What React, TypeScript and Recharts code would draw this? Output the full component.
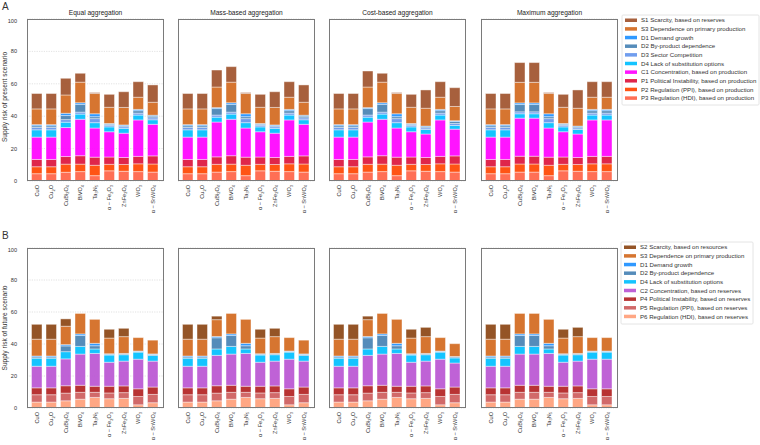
import React from "react";
import { BarChart, Bar, XAxis, YAxis, CartesianGrid } from "recharts";

// materials, subscripts marked with _n
const materials = ["CuO", "Cu_2O", "CuBi_2O_4", "BiVO_4", "Ta_3N_5", "α − Fe_2O_3", "ZnFe_2O_4", "WO_3", "α − SnWO_4"];

const panelTitles = ["Equal aggregation", "Mass-based aggregation", "Cost-based aggregation", "Maximum aggregation"];
const yTicks = [0, 20, 40, 60, 80, 100];

// stacking order, bottom -> top
const presentKeys = ["P3", "P2", "P1", "C1", "D4", "D3", "D2", "D1", "S3", "S1"];
const futureKeys = ["P6", "P5", "P4", "C2", "D4", "D2", "D1", "S3", "S2"];

const colors: Record<string, string> = {
  S1: "#a0522d", S2: "#8b4513", S3: "#d2691e",
  D1: "#1e90ff", D2: "#4682b4", D3: "#6495ed", D4: "#00bfff",
  C1: "#ff00ff", C2: "#ba55d3",
  P1: "#dc143c", P2: "#ff4500", P3: "#ff6347",
  P4: "#b22222", P5: "#cd5c5c", P6: "#ffa07a",
};

const presentLegend = [
  ["S1", "S1 Scarcity, based on reserves"],
  ["S3", "S3 Dependence on primary production"],
  ["D1", "D1 Demand growth"],
  ["D2", "D2 By-product dependence"],
  ["D3", "D3 Sector Competition"],
  ["D4", "D4 Lack of substitution options"],
  ["C1", "C1 Concentration, based on production"],
  ["P1", "P1 Political Instability, based on production"],
  ["P2", "P2 Regulation (PPI), based on production"],
  ["P3", "P3 Regulation (HDI), based on production"],
];
const futureLegend = [
  ["S2", "S2 Scarcity, based on resources"],
  ["S3", "S3 Dependence on primary production"],
  ["D1", "D1 Demand growth"],
  ["D2", "D2 By-product dependence"],
  ["D4", "D4 Lack of substitution options"],
  ["C2", "C2 Concentration, based on reserves"],
  ["P4", "P4 Political Instability, based on reserves"],
  ["P5", "P5 Regulation (PPI), based on reserves"],
  ["P6", "P6 Regulation (HDI), based on reserves"],
];

// A: present scenario
const presentEqual = {
  S1: [9.5, 9.5, 10.3, 5.5, 0.6, 8.0, 9.7, 9.6, 10.7],
  S3: [9.7, 9.7, 11.3, 12.7, 12.5, 10.0, 10.8, 7.5, 8.0],
  D1: [0.7, 0.7, 1.4, 1.0, 1.8, 0.5, 0.5, 0.8, 0.6],
  D2: [1.0, 1.0, 2.5, 4.8, 1.2, 0.6, 0.6, 1.5, 1.0],
  D3: [1.5, 1.5, 1.6, 1.2, 2.5, 1.0, 1.0, 1.2, 1.2],
  D4: [4.5, 4.5, 3.3, 3.2, 3.3, 3.0, 3.0, 3.0, 2.8],
  C1: [13.8, 13.8, 17.9, 22.5, 18.0, 15.6, 15.0, 22.5, 19.5],
  P1: [4.5, 4.5, 4.7, 5.2, 5.0, 4.5, 4.3, 4.6, 5.0],
  P2: [4.3, 4.3, 5.0, 4.6, 6.4, 4.0, 4.2, 4.8, 5.0],
  P3: [4.5, 4.5, 5.4, 5.8, 3.3, 6.3, 6.0, 5.8, 5.5],
};
const presentMass = {
  S1: [9.5, 9.5, 10.5, 9.6, 0.6, 8.0, 9.7, 9.6, 10.7],
  S3: [9.7, 9.7, 12.7, 12.7, 12.5, 10.0, 10.8, 7.5, 8.0],
  D1: [0.7, 0.7, 0.6, 1.0, 1.8, 0.5, 0.5, 0.8, 0.6],
  D2: [1.0, 1.0, 4.0, 4.8, 1.2, 0.6, 0.6, 1.5, 1.0],
  D3: [1.5, 1.5, 1.3, 1.2, 2.5, 1.0, 1.0, 1.2, 1.2],
  D4: [4.5, 4.5, 3.0, 3.2, 3.3, 3.0, 3.0, 3.0, 2.8],
  C1: [13.8, 13.8, 21.5, 22.5, 18.0, 15.6, 15.0, 22.5, 19.5],
  P1: [4.5, 4.5, 4.6, 5.2, 5.0, 4.5, 4.3, 4.6, 5.0],
  P2: [4.3, 4.3, 4.8, 4.6, 6.4, 4.0, 4.2, 4.8, 5.0],
  P3: [4.5, 4.5, 5.5, 5.8, 3.3, 6.3, 6.0, 5.8, 5.5],
};
const presentCost = {
  S1: [9.5, 9.5, 9.9, 5.5, 0.6, 8.0, 11.3, 9.6, 11.6],
  S3: [9.7, 9.7, 12.7, 12.7, 12.5, 10.0, 11.0, 7.5, 8.8],
  D1: [0.7, 0.7, 0.6, 1.0, 1.8, 0.5, 0.5, 0.8, 0.5],
  D2: [1.0, 1.0, 4.0, 4.8, 1.2, 0.6, 0.6, 1.5, 1.2],
  D3: [1.5, 1.5, 1.3, 1.2, 2.5, 1.0, 1.0, 1.2, 1.2],
  D4: [4.5, 4.5, 3.0, 3.2, 3.3, 3.0, 2.8, 3.0, 2.3],
  C1: [13.8, 13.8, 21.5, 22.5, 18.0, 15.6, 14.5, 22.5, 16.5],
  P1: [4.5, 4.5, 4.6, 5.2, 5.0, 4.5, 4.3, 4.6, 5.0],
  P2: [4.3, 4.3, 4.8, 4.6, 6.4, 4.0, 4.2, 4.8, 5.0],
  P3: [4.5, 4.5, 5.5, 5.8, 3.3, 6.3, 6.0, 5.8, 5.5],
};
const presentMax = {
  S1: [9.5, 9.5, 12.2, 12.2, 0.6, 8.0, 11.3, 9.6, 9.6],
  S3: [9.7, 9.7, 12.7, 12.7, 12.5, 10.0, 11.0, 7.5, 7.5],
  D1: [0.7, 0.7, 1.0, 1.0, 1.8, 0.5, 0.5, 0.8, 0.8],
  D2: [1.0, 1.0, 4.5, 4.5, 1.2, 0.6, 0.6, 1.5, 1.5],
  D3: [1.5, 1.5, 1.2, 1.2, 2.5, 1.0, 1.0, 1.2, 1.2],
  D4: [4.5, 4.5, 2.7, 2.7, 3.3, 3.0, 2.8, 3.0, 3.0],
  C1: [13.8, 13.8, 23.5, 23.5, 18.0, 15.6, 14.5, 22.5, 22.5],
  P1: [4.5, 4.5, 4.8, 4.8, 5.0, 4.5, 4.3, 4.6, 4.6],
  P2: [4.3, 4.3, 5.0, 5.0, 6.4, 4.0, 4.2, 4.8, 4.8],
  P3: [4.5, 4.5, 5.5, 5.5, 3.3, 6.3, 6.0, 5.8, 5.8],
};

// B: future scenario
const futureEqual = {
  S2: [9.3, 9.3, 4.6, 0, 0, 5.5, 5.2, 0, 0],
  S3: [10.5, 10.5, 11.5, 12.8, 15.0, 9.8, 10.5, 8.4, 8.6],
  D1: [0.6, 0.6, 0.8, 1.0, 1.5, 0.3, 0.3, 0.2, 0.3],
  D2: [0.8, 0.8, 3.6, 6.8, 2.0, 0.5, 0.5, 0.5, 0.6],
  D4: [5.0, 5.0, 4.5, 4.8, 2.8, 4.5, 4.0, 4.4, 3.6],
  C2: [13.5, 13.5, 16.8, 19.5, 20.5, 15.0, 15.5, 18.5, 16.2],
  P4: [4.3, 4.3, 4.6, 4.4, 3.8, 4.2, 4.2, 4.8, 4.6],
  P5: [4.6, 4.6, 4.8, 4.3, 3.2, 3.6, 3.6, 5.2, 5.2],
  P6: [3.7, 3.7, 4.5, 5.5, 6.6, 5.8, 6.0, 2.0, 3.3],
};
const futureMass = {
  S2: [9.3, 9.3, 2.2, 0, 0, 5.5, 5.2, 0, 0],
  S3: [10.5, 10.5, 10.5, 12.8, 15.0, 9.8, 10.5, 8.4, 8.6],
  D1: [0.6, 0.6, 0.8, 1.0, 1.5, 0.3, 0.3, 0.2, 0.3],
  D2: [0.8, 0.8, 7.0, 6.8, 2.0, 0.5, 0.5, 0.5, 0.6],
  D4: [5.0, 5.0, 4.0, 4.8, 2.8, 4.5, 4.0, 4.4, 3.6],
  C2: [13.5, 13.5, 19.0, 19.5, 20.5, 15.0, 15.5, 18.5, 16.2],
  P4: [4.3, 4.3, 4.6, 4.4, 3.8, 4.2, 4.2, 4.8, 4.6],
  P5: [4.6, 4.6, 4.8, 4.3, 3.2, 3.6, 3.6, 5.2, 5.2],
  P6: [3.7, 3.7, 4.5, 5.5, 6.6, 5.8, 6.0, 2.0, 3.3],
};
const futureCost = {
  S2: [9.3, 9.3, 2.2, 0, 0, 5.5, 5.8, 0, 0],
  S3: [10.5, 10.5, 10.5, 12.8, 15.0, 9.8, 10.5, 8.4, 8.0],
  D1: [0.6, 0.6, 0.8, 1.0, 1.5, 0.3, 0.3, 0.2, 0.3],
  D2: [0.8, 0.8, 7.0, 6.8, 2.0, 0.5, 0.5, 0.5, 0.6],
  D4: [5.0, 5.0, 4.0, 4.8, 2.8, 4.5, 4.0, 4.4, 3.2],
  C2: [13.5, 13.5, 19.0, 19.5, 20.5, 15.0, 15.5, 18.5, 15.0],
  P4: [4.3, 4.3, 4.6, 4.4, 3.8, 4.2, 4.2, 4.8, 4.6],
  P5: [4.6, 4.6, 4.8, 4.3, 3.2, 3.6, 3.6, 5.2, 5.2],
  P6: [3.7, 3.7, 4.5, 5.5, 6.6, 5.8, 6.0, 2.0, 3.3],
};
const futureMax = {
  S2: [9.3, 9.3, 0, 0, 0, 5.5, 5.8, 0, 0],
  S3: [10.5, 10.5, 12.8, 12.8, 15.0, 9.8, 10.5, 8.4, 8.4],
  D1: [0.6, 0.6, 1.0, 1.0, 1.5, 0.3, 0.3, 0.2, 0.2],
  D2: [0.8, 0.8, 6.8, 6.8, 2.0, 0.5, 0.5, 0.5, 0.5],
  D4: [5.0, 5.0, 4.8, 4.8, 2.8, 4.5, 4.0, 4.4, 4.4],
  C2: [13.5, 13.5, 19.5, 19.5, 20.5, 15.0, 15.5, 18.5, 18.5],
  P4: [4.3, 4.3, 4.4, 4.4, 3.8, 4.2, 4.2, 4.8, 4.8],
  P5: [4.6, 4.6, 4.3, 4.3, 3.2, 3.6, 3.6, 5.2, 5.2],
  P6: [3.7, 3.7, 5.5, 5.5, 6.6, 5.8, 6.0, 2.0, 2.0],
};

const FONT = "'Liberation Sans', Arial, sans-serif";
const PLOT_W = 137;
const Y_W = 26;
const panelLefts = [27, 178, 329, 481];
const A_TOP = 19;
const A_H = 162;
const B_TOP = 248;
const B_H = 160;

function buildRows(series: Record<string, number[]>) {
  return materials.map((m, i) => {
    const row: Record<string, number | string> = { name: m };
    for (const k of Object.keys(series)) row[k] = series[k][i];
    return row;
  });
}

// rotated formula label, e.g. Fe_2O_3
const MaterialTick = (props: any) => {
  const { x, y, payload } = props;
  const parts = String(payload.value).split(/_(\d)/);
  return (
    <text
      transform={`translate(${x + 2},${y}) rotate(-90)`}
      textAnchor="end"
      fontSize={5.6}
      fill="#333"
      fontFamily={FONT}
    >
      {parts.map((p, i) =>
        i % 2 === 1 ? (
          <tspan key={i} fontSize={4} dy={1.3}>{p}</tspan>
        ) : (
          <tspan key={i} dy={i === 0 ? 0 : -1.3}>{p}</tspan>
        )
      )}
    </text>
  );
};

function Panel({ series, keys, left, top, height, showY }: {
  series: Record<string, number[]>;
  keys: string[];
  left: number;
  top: number;
  height: number;
  showY: boolean;
}) {
  const rows = buildRows(series);
  return (
    <>
      <div style={{ position: "absolute", left: left - Y_W, top: top - 1 }}>
        <BarChart
          width={Y_W + PLOT_W + 1}
          height={height + 1 + 50}
          data={rows}
          margin={{ top: 1, right: 1, left: 0, bottom: 0 }}
          barCategoryGap={0}
        >
          <CartesianGrid vertical={false} stroke="#cfcfcf" strokeDasharray="1.2 1.2" strokeWidth={0.6} />
          <XAxis
            dataKey="name"
            interval={0}
            height={50}
            tickSize={0}
            tickMargin={4}
            axisLine={false}
            tick={<MaterialTick />}
            padding={{ left: 2.5, right: 4 }}
          />
          <YAxis
            width={Y_W}
            domain={[0, 100]}
            ticks={yTicks}
            axisLine={false}
            tickLine={false}
            tickMargin={4}
            tick={showY ? { fontSize: 5.6, fill: "#333", fontFamily: FONT } : false}
          />
          {keys.map((k) => (
            <Bar
              key={k}
              dataKey={k}
              stackId="s"
              fill={colors[k]}
              fillOpacity={0.92}
              stroke="#ffffff"
              strokeOpacity={0.7}
              strokeWidth={0.6}
              barSize={10.5}
              isAnimationActive={false}
            />
          ))}
        </BarChart>
      </div>
      <div
        style={{
          position: "absolute",
          left,
          top,
          width: PLOT_W,
          height,
          boxSizing: "border-box",
          border: "1px solid #7a7a7a",
          pointerEvents: "none",
        }}
      />
    </>
  );
}

function LegendBox({ items, x, y, w, h }: { items: string[][]; x: number; y: number; w: number; h: number }) {
  return (
    <g fontFamily={FONT}>
      <rect x={x} y={y} width={w} height={h} fill="#fff" stroke="#dddddd" strokeWidth={0.8} rx={1} />
      {items.map(([k, label], i) => (
        <g key={k}>
          <rect x={x + 3} y={y + 3.5 + i * 8.65} width={12} height={3.5} fill={colors[k]} fillOpacity={0.92} />
          <text x={x + 19} y={y + 7.4 + i * 8.65} fontSize={6.1} fill="#333">{label}</text>
        </g>
      ))}
    </g>
  );
}

const present = [presentEqual, presentMass, presentCost, presentMax];
const future = [futureEqual, futureMass, futureCost, futureMax];

export default function App() {
  return (
    <div style={{ position: "absolute", left: 0, top: 0, width: 760, height: 445, background: "#fff", overflow: "hidden" }}>
      <svg width={760} height={445} style={{ position: "absolute", left: 0, top: 0 }}>
        <text x={2} y={10} fontSize={10} fill="#333" fontFamily={FONT}>A</text>
        <text x={2} y={239} fontSize={10} fill="#333" fontFamily={FONT}>B</text>
        <text transform="translate(7,97) rotate(-90)" textAnchor="middle" fontSize={6.6} fill="#333" fontFamily={FONT}>
          Supply risk of present scenario
        </text>
        <text transform="translate(7,328) rotate(-90)" textAnchor="middle" fontSize={6.6} fill="#333" fontFamily={FONT}>
          Supply risk of future scenario
        </text>
        {panelTitles.map((t, i) => (
          <text key={t} x={panelLefts[i] + PLOT_W / 2} y={15} textAnchor="middle" fontSize={6.6} fill="#222" fontFamily={FONT}>
            {t}
          </text>
        ))}
        <LegendBox items={presentLegend} x={622} y={15} w={137} h={90} />
        <LegendBox items={futureLegend} x={621} y={242} w={132} h={82} />
      </svg>
      {present.map((s, i) => (
        <Panel key={"a" + i} series={s} keys={presentKeys} left={panelLefts[i]} top={A_TOP} height={A_H} showY={i === 0} />
      ))}
      {future.map((s, i) => (
        <Panel key={"b" + i} series={s} keys={futureKeys} left={panelLefts[i]} top={B_TOP} height={B_H} showY={i === 0} />
      ))}
    </div>
  );
}
